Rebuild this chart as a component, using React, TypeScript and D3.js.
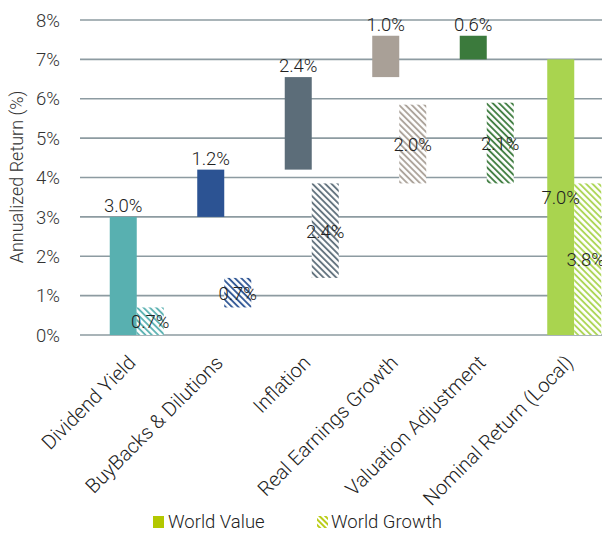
import React from "react";
import * as d3 from "d3";

const categories = [
  "Dividend Yield",
  "BuyBacks & Dilutions",
  "Inflation",
  "Real Earnings Growth",
  "Valuation Adjustment",
  "Nominal Return (Local)",
];
const valueLow = [0, 3.0, 4.2, 6.55, 7.0, 0];
const valueHigh = [3.0, 4.2, 6.55, 7.6, 7.6, 7.0];
const valueLabels = ["3.0%", "1.2%", "2.4%", "1.0%", "0.6%", "7.0%"];
const growthLow = [0, 0.7, 1.45, 3.85, 3.85, 0];
const growthHigh = [0.7, 1.45, 3.85, 5.85, 5.9, 3.85];
const growthLabels = ["0.7%", "0.7%", "2.4%", "2.0%", "2.1%", "3.8%"];
const colors = ["#58b0b0", "#2c5393", "#5c6d79", "#a9a097", "#3b7a3c", "#a9d44f"];
const yTicks = [0, 1, 2, 3, 4, 5, 6, 7, 8];
const legendItems = ["World Value", "World Growth"];
const legendColor = "#b3c800";

const W = 602;
const H = 533;
const FONT = "Roboto, 'Liberation Sans', sans-serif";
const FS = 18.5;

export default function App() {
  const y = d3.scaleLinear().domain([0, 8]).range([335, 20]);
  const x = d3.scaleBand<string>().domain(categories).range([93, 618]).paddingInner(0).paddingOuter(0);
  const sub = d3
    .scaleBand<string>()
    .domain(["value", "growth"])
    .range([0, x.bandwidth()])
    .paddingInner(0)
    .paddingOuter(0.62);

  return (
    <svg
      width={W}
      height={H}
      style={{ position: "absolute", left: 0, top: 0, background: "#fff" }}
      fontFamily={FONT}
    >
      <defs>
        {colors.map((c, i) => (
          <pattern
            key={i}
            id={`hatch${i}`}
            width={4.5}
            height={4.5}
            patternUnits="userSpaceOnUse"
            patternTransform="rotate(-45)"
          >
            <rect width={4.5} height={4.5} fill="#fff" />
            <line x1={1} y1={0} x2={1} y2={4.5} stroke={c} strokeWidth={1.8} />
          </pattern>
        ))}
        <pattern
          id="hatchLegend"
          width={4}
          height={4}
          patternUnits="userSpaceOnUse"
          patternTransform="rotate(-45)"
        >
          <rect width={4} height={4} fill="#fff" />
          <line x1={1} y1={0} x2={1} y2={4} stroke={legendColor} strokeWidth={1.8} />
        </pattern>
      </defs>

      {/* gridlines */}
      {yTicks.map((t) => (
        <g key={t}>
          <line x1={80} x2={W} y1={y(t)} y2={y(t)} stroke="#8d9ba1" strokeWidth={1.6} />
          <text
            x={60}
            y={y(t)}
            dy="0.36em"
            textAnchor="end"
            fontSize={FS}
            fontWeight={300}
            fill="#333"
          >
            {t}%
          </text>
        </g>
      ))}

      {/* y axis title */}
      <text
        transform={`translate(23,177) rotate(-90)`}
        textAnchor="middle"
        fontSize={18}
        fontWeight={300}
        fill="#333"
      >
        Annualized Return (%)
      </text>

      {/* bars */}
      {categories.map((c, i) => {
        const bx = x(c)!;
        const vx = bx + sub("value")!;
        const gx = bx + sub("growth")!;
        const bw = sub.bandwidth();
        return (
          <g key={c}>
            <rect
              x={vx}
              y={y(valueHigh[i])}
              width={bw}
              height={y(valueLow[i]) - y(valueHigh[i])}
              fill={colors[i]}
            />
            <rect
              x={gx}
              y={y(growthHigh[i])}
              width={bw}
              height={y(growthLow[i]) - y(growthHigh[i])}
              fill={`url(#hatch${i})`}
            />
          </g>
        );
      })}

      {/* labels */}
      {categories.map((c, i) => {
        const bx = x(c)!;
        const bw = sub.bandwidth();
        const vx = bx + sub("value")! + bw / 2;
        const gx = bx + sub("growth")! + bw / 2;
        const isTotal = i === categories.length - 1;
        const vy = isTotal
          ? (y(valueLow[i]) + y(valueHigh[i])) / 2 + 7
          : y(valueHigh[i]) - 5;
        const gy = (y(growthLow[i]) + y(growthHigh[i])) / 2 + 7;
        return (
          <g key={c} fontSize={FS} fontWeight={300} fill="#222">
            <text x={vx} y={vy} textAnchor="middle">
              {valueLabels[i]}
            </text>
            <text x={isTotal ? gx - 2 : gx} y={gy} textAnchor="middle">
              {growthLabels[i]}
            </text>
          </g>
        );
      })}

      {/* x labels */}
      {categories.map((c) => {
        const cx = x(c)! + x.bandwidth() / 2;
        return (
          <text
            key={c}
            transform={`translate(${cx},364) rotate(-45)`}
            textAnchor="end"
            fontSize={20}
            fontWeight={300}
            fill="#222"
          >
            {c}
          </text>
        );
      })}

      {/* legend */}
      <rect x={153} y={516} width={11} height={12} fill={legendColor} />
      <text x={168} y={528} fontSize={FS} fontWeight={300} fill="#222">
        {legendItems[0]}
      </text>
      <rect x={317} y={516} width={11} height={12} fill="url(#hatchLegend)" />
      <text x={331} y={528} fontSize={FS} fontWeight={300} fill="#222">
        {legendItems[1]}
      </text>
    </svg>
  );
}
